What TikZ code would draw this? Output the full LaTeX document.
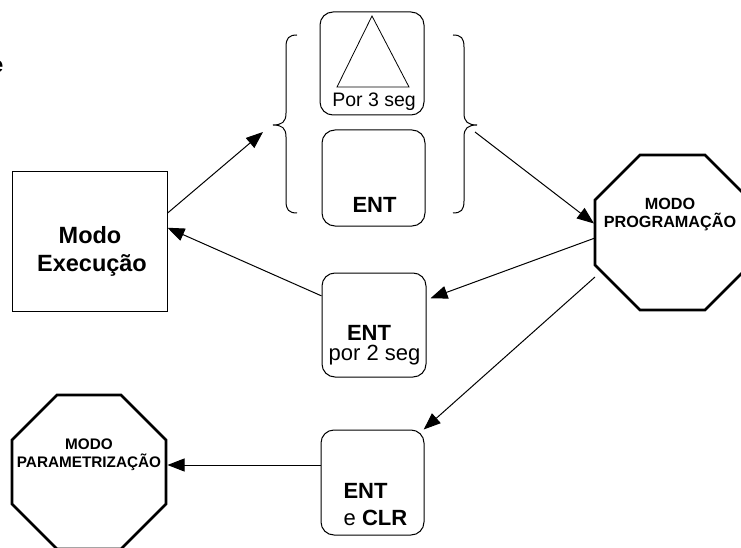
\documentclass[tikz,border=0pt]{standalone}
\usepackage{fontspec}
\setmainfont{Liberation Sans}
\usetikzlibrary{arrows.meta}
\tikzset{
  keybox/.style={draw, line width=1pt, rounded corners=13pt, inner sep=0pt},
  modebox/.style={draw, line width=1pt, inner sep=0pt},
  octa/.style={draw, line width=2.6pt, line join=miter},
  conn/.style={line width=1pt, -{Triangle[length=17pt,width=13pt]}},
  brace/.style={line width=1pt},
  big/.style={font=\fontsize{22}{26}\selectfont\bfseries, inner sep=0pt},
  bigr/.style={font=\fontsize{22}{26}\selectfont, inner sep=0pt},
}
\begin{document}
\begin{tikzpicture}[x=1pt,y=-1pt]
\useasboundingbox (0,0) rectangle (741,548);
\clip (0,0) rectangle (741,548);
\fill[white] (0,0) rectangle (741,548);

% partial glyph at left edge
\node[big, anchor=base east] (edge) at (3.5,73) {e};

% Modo Execucao
\node[modebox, minimum width=155pt, minimum height=139pt] (modo) at (89.5,241.5) {};
\node[big, anchor=base, font=\fontsize{23.5}{27}\selectfont\bfseries] (modo1) at (90,243) {Modo};
\node[big, anchor=base, font=\fontsize{23.5}{27}\selectfont\bfseries] (modo2) at (92,271) {Execução};

% top group
\node[keybox, minimum width=104pt, minimum height=103pt] (tri) at (372,63.5) {};
\draw[line width=0.8pt] (372,16) -- (337,87) -- (409,87) -- cycle;
\node[bigr, anchor=base, font=\fontsize{19.5}{22}\selectfont] (por3) at (374,107) {Por 3 seg};
\node[keybox, minimum width=103pt, minimum height=96pt] (entA) at (373.5,178) {};
\node[big, anchor=base] (entAt) at (374.5,212) {ENT};

% braces
\draw[brace] (297,35) .. controls (289,35) and (286,38) .. (286,47) -- (286,113)
  .. controls (286,122) and (282,125) .. (273,125)
  .. controls (282,125) and (286,128) .. (286,137) -- (286,201)
  .. controls (286,210) and (289,213) .. (297,213);
\draw[brace] (453,35) .. controls (461,35) and (464,38) .. (464,47) -- (464,113)
  .. controls (464,122) and (468,125) .. (477,125)
  .. controls (468,125) and (464,128) .. (464,137) -- (464,201)
  .. controls (464,210) and (461,213) .. (453,213);
\coordinate (lbt) at (263,132);
\coordinate (rbt) at (475,132);

% MODO PROGRAMACAO
\draw[octa] (640,155) -- (705,155) -- (750,200) -- (750,265) -- (705,310) -- (640,310) -- (595,265) -- (595,200) -- cycle;
\node[inner sep=0pt, align=center, font=\fontsize{16.2}{17.5}\selectfont\bfseries, anchor=base] (progt) at (670,227) {MODO\\PROGRAMAÇÃO};
\coordinate (progin) at (594,223.5);
\coordinate (progoutA) at (595,238);
\coordinate (progoutB) at (595,277);

% ENT por 2 seg
\node[keybox, minimum width=104pt, minimum height=104pt] (entB) at (374,325) {};
\node[big, anchor=base] (entBt) at (369,340) {ENT};
\node[bigr, anchor=base] (entBs) at (374.5,360) {por 2 seg};

% ENT e CLR
\node[keybox, minimum width=103pt, minimum height=105pt] (entC) at (372.5,482.5) {};
\node[big, anchor=base] (entCt) at (365.5,498) {ENT};
\node[bigr, anchor=base] (entCs) at (375.5,525) {e \textbf{CLR}};

% MODO PARAMETRIZACAO
\draw[octa] (57,395) -- (121,395) -- (166,440) -- (166,504) -- (121,549) -- (57,549) -- (12,504) -- (12,440) -- cycle;
\node[inner sep=0pt, align=center, font=\fontsize{15.3}{17.5}\selectfont\bfseries, anchor=base] (paramt) at (89,467) {MODO\\PARAMETRIZAÇÃO};
\coordinate (paramin) at (167.5,465);

% connectors
\draw[conn] (modo.20) -- (lbt);
\draw[conn] (rbt) -- (progin);
\draw[conn] (progoutA) -- ([xshift=4pt]entB.27);
\draw[conn] (entB.151) -- (modo.10);
\draw[conn] (progoutB) -- (entC.46);
\draw[conn] (entC.west |- paramin) -- (paramin);
\end{tikzpicture}
\end{document}
